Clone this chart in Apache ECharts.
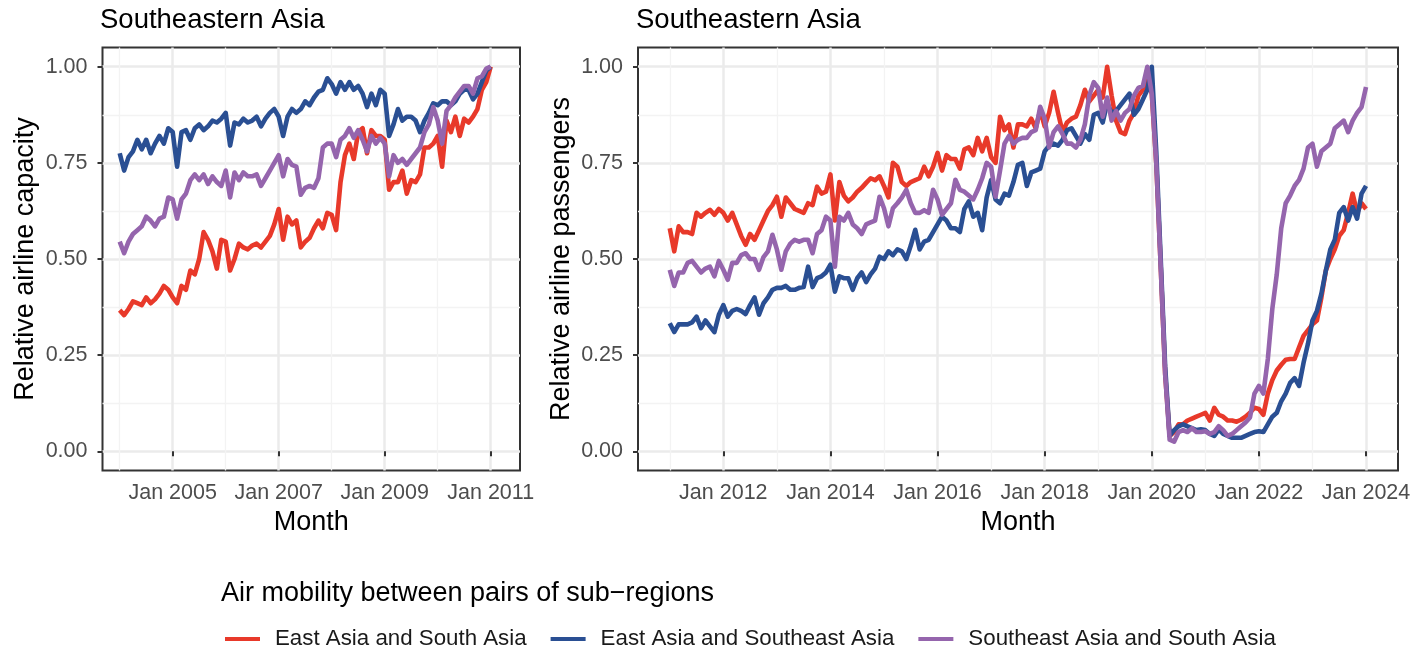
<!DOCTYPE html>
<html>
<head>
<meta charset="utf-8">
<title>Southeastern Asia air mobility</title>
<script src="https://cdn.jsdelivr.net/npm/echarts@6/dist/echarts.min.js"></script>
<style>
html, body { margin: 0; padding: 0; background: #fff; }
#chart { width: 1427px; height: 652px; }
</style>
</head>
<body>
<div id="chart"></div>
<script>
var seriesNames = ['East Asia and South Asia', 'East Asia and Southeast Asia', 'Southeast Asia and South Asia'];
var colors = ['#e8392a', '#2a4f93', '#9565ad'];

// left panel: monthly capacity, Jan 2004 .. Jan 2011
var capStart = 2004;
var capRed = [0.367,0.354,0.37,0.39,0.385,0.38,0.40,0.385,0.395,0.41,
  0.43,0.42,0.40,0.385,0.43,0.42,0.47,0.46,0.50,0.57,
  0.55,0.52,0.475,0.55,0.545,0.47,0.50,0.54,0.53,0.525,
  0.535,0.54,0.53,0.545,0.56,0.59,0.63,0.55,0.61,0.59,
  0.60,0.53,0.545,0.555,0.58,0.60,0.58,0.62,0.615,0.575,
  0.70,0.77,0.80,0.76,0.83,0.84,0.775,0.835,0.82,0.82,
  0.81,0.68,0.70,0.70,0.73,0.67,0.705,0.70,0.72,0.79,
  0.79,0.80,0.82,0.74,0.86,0.83,0.87,0.82,0.865,0.855,
  0.87,0.89,0.94,0.96,1.00];
var capBlue = [0.775,0.73,0.765,0.78,0.81,0.785,0.81,0.775,0.80,0.82,
  0.80,0.84,0.83,0.74,0.83,0.835,0.81,0.84,0.85,0.835,
  0.845,0.86,0.855,0.865,0.88,0.795,0.855,0.85,0.865,0.855,
  0.86,0.87,0.845,0.865,0.88,0.89,0.87,0.82,0.87,0.89,
  0.88,0.89,0.91,0.90,0.92,0.935,0.94,0.97,0.955,0.93,
  0.96,0.94,0.96,0.94,0.95,0.93,0.895,0.93,0.90,0.94,
  0.93,0.82,0.85,0.89,0.86,0.87,0.87,0.86,0.83,0.86,
  0.88,0.905,0.90,0.91,0.91,0.90,0.91,0.93,0.94,0.94,
  0.915,0.93,0.96,0.99,1.00];
var capPurple = [0.545,0.515,0.545,0.565,0.575,0.585,0.61,0.60,0.585,0.605,
  0.61,0.66,0.655,0.605,0.655,0.67,0.705,0.72,0.705,0.72,
  0.695,0.715,0.70,0.69,0.73,0.66,0.725,0.705,0.725,0.715,
  0.715,0.72,0.69,0.71,0.73,0.75,0.77,0.715,0.76,0.745,
  0.74,0.667,0.685,0.69,0.685,0.71,0.79,0.80,0.80,0.765,
  0.81,0.82,0.84,0.815,0.835,0.81,0.78,0.82,0.80,0.815,
  0.80,0.715,0.77,0.75,0.76,0.745,0.76,0.775,0.79,0.83,
  0.85,0.895,0.86,0.80,0.885,0.90,0.92,0.935,0.95,0.95,
  0.93,0.97,0.975,0.995,1.00];

// right panel: monthly passengers, Jan 2011 .. Jan 2024
var paxStart = 2011;
var paxRed = [0.58,0.52,0.585,0.57,0.57,0.565,0.62,0.61,0.62,0.628,
  0.615,0.63,0.62,0.60,0.62,0.59,0.56,0.537,0.565,0.55,
  0.575,0.60,0.625,0.64,0.662,0.61,0.66,0.645,0.63,0.625,
  0.62,0.645,0.64,0.688,0.67,0.675,0.72,0.60,0.70,0.665,
  0.65,0.66,0.675,0.685,0.698,0.71,0.705,0.715,0.69,0.66,
  0.75,0.74,0.70,0.69,0.70,0.705,0.71,0.74,0.715,0.74,
  0.776,0.73,0.77,0.76,0.76,0.735,0.785,0.79,0.77,0.815,
  0.78,0.815,0.765,0.75,0.87,0.835,0.85,0.79,0.85,0.85,
  0.845,0.865,0.84,0.887,0.845,0.88,0.935,0.88,0.83,0.855,
  0.865,0.87,0.90,0.94,0.91,0.925,0.94,0.92,1.00,0.925,
  0.86,0.83,0.825,0.86,0.88,0.925,0.94,0.965,0.93,0.75,
  0.48,0.20,0.04,0.05,0.07,0.07,0.08,0.085,0.09,0.095,
  0.10,0.08,0.113,0.095,0.09,0.08,0.08,0.077,0.082,0.09,
  0.10,0.113,0.11,0.095,0.15,0.185,0.21,0.225,0.238,0.24,
  0.24,0.27,0.30,0.315,0.33,0.34,0.40,0.47,0.50,0.525,
  0.56,0.575,0.62,0.67,0.62,0.645,0.63];
var paxBlue = [0.333,0.31,0.33,0.33,0.33,0.335,0.35,0.32,0.34,0.325,
  0.31,0.355,0.38,0.35,0.365,0.37,0.365,0.357,0.38,0.40,
  0.355,0.385,0.40,0.42,0.425,0.425,0.43,0.42,0.42,0.425,
  0.427,0.48,0.427,0.45,0.455,0.465,0.485,0.415,0.455,0.45,
  0.45,0.42,0.45,0.465,0.44,0.46,0.475,0.506,0.50,0.52,
  0.51,0.525,0.52,0.50,0.535,0.576,0.525,0.545,0.55,0.57,
  0.59,0.61,0.60,0.58,0.58,0.57,0.63,0.65,0.61,0.62,
  0.575,0.66,0.705,0.655,0.645,0.67,0.665,0.70,0.745,0.75,
  0.69,0.725,0.73,0.735,0.78,0.795,0.80,0.795,0.81,0.835,
  0.84,0.82,0.80,0.825,0.81,0.875,0.88,0.855,0.905,0.88,
  0.885,0.90,0.915,0.93,0.875,0.89,0.915,0.94,1.00,0.78,
  0.50,0.22,0.04,0.055,0.065,0.07,0.065,0.06,0.055,0.057,
  0.055,0.045,0.04,0.057,0.045,0.04,0.035,0.035,0.035,0.04,
  0.045,0.05,0.052,0.05,0.07,0.09,0.10,0.13,0.15,0.178,
  0.19,0.17,0.23,0.28,0.34,0.365,0.41,0.47,0.525,0.55,
  0.62,0.635,0.60,0.635,0.605,0.67,0.69];
var paxPurple = [0.472,0.43,0.465,0.465,0.49,0.495,0.48,0.465,0.475,0.48,
  0.455,0.495,0.472,0.446,0.49,0.49,0.51,0.515,0.50,0.50,
  0.472,0.505,0.52,0.563,0.525,0.472,0.52,0.54,0.55,0.545,
  0.55,0.55,0.515,0.565,0.575,0.61,0.60,0.48,0.61,0.60,
  0.62,0.59,0.58,0.565,0.59,0.595,0.60,0.662,0.632,0.585,
  0.632,0.645,0.66,0.68,0.645,0.62,0.62,0.627,0.62,0.68,
  0.655,0.615,0.63,0.645,0.706,0.68,0.675,0.665,0.655,0.68,
  0.71,0.75,0.74,0.662,0.73,0.80,0.82,0.80,0.81,0.815,
  0.815,0.83,0.835,0.896,0.865,0.79,0.83,0.845,0.825,0.80,
  0.80,0.79,0.81,0.85,0.925,0.96,0.945,0.87,0.92,0.86,
  0.885,0.86,0.88,0.89,0.925,0.945,0.95,1.00,0.93,0.75,
  0.48,0.20,0.03,0.025,0.05,0.055,0.05,0.06,0.05,0.05,
  0.052,0.045,0.05,0.065,0.055,0.04,0.045,0.055,0.065,0.075,
  0.088,0.15,0.17,0.15,0.24,0.37,0.46,0.58,0.645,0.665,
  0.69,0.706,0.735,0.79,0.80,0.74,0.78,0.79,0.80,0.84,
  0.85,0.86,0.83,0.86,0.88,0.895,0.947];

// ticks and grid breaks
var capTicks = [2005, 2007, 2009, 2011];
var capMinor = [2004, 2006, 2008, 2010];
var paxTicks = [2012, 2014, 2016, 2018, 2020, 2022, 2024];
var paxMinor = [2011, 2013, 2015, 2017, 2019, 2021, 2023];
var yTicks = [0, 0.25, 0.5, 0.75, 1];
var yMinor = [0.125, 0.375, 0.625, 0.875];

var font = "'Liberation Sans', Arial, Helvetica, sans-serif";

function monthly(start, values) {
  return values.map(function (v, i) { return [start + i / 12, v]; });
}

function majorX(grid, min, max, ticks) {
  return {
    type: 'value', gridIndex: grid, min: min, max: max, position: 'bottom',
    axisLine: { show: false },
    axisTick: { show: true, customValues: ticks, length: 5, lineStyle: { color: '#333333', width: 2 } },
    axisLabel: {
      customValues: ticks, margin: 12, fontSize: 21.5, color: '#4d4d4d', fontFamily: font,
      formatter: function (v) { return 'Jan ' + Math.round(v); }
    },
    splitLine: { show: true, lineStyle: { color: '#ebebeb', width: 2.5 } },
    name: 'Month', nameLocation: 'middle', nameGap: 39, nameMoveOverlap: false,
    nameTextStyle: { fontSize: 27, color: '#000', fontFamily: font }
  };
}

function minorAxis(grid, min, max, vals) {
  return {
    type: 'value', gridIndex: grid, min: min, max: max,
    axisLine: { show: false },
    axisTick: { show: false, customValues: vals },
    axisLabel: { show: false, customValues: vals },
    splitLine: { show: true, lineStyle: { color: '#f3f3f3', width: 1.3 } }
  };
}

function majorY(grid, name) {
  return {
    type: 'value', gridIndex: grid, min: -0.05, max: 1.05, position: 'left',
    axisLine: { show: false },
    axisTick: { show: true, customValues: yTicks, length: 5, lineStyle: { color: '#333333', width: 2 } },
    axisLabel: {
      customValues: yTicks, margin: 15, fontSize: 21.5, color: '#4d4d4d', fontFamily: font,
      formatter: function (v) { return v.toFixed(2); }
    },
    splitLine: { show: true, lineStyle: { color: '#ebebeb', width: 2.5 } },
    name: name, nameLocation: 'middle', nameGap: 63, nameRotate: 90, nameMoveOverlap: false,
    nameTextStyle: { fontSize: 27, color: '#000', fontFamily: font }
  };
}

function line(name, color, x, y, data) {
  return {
    name: name, type: 'line', xAxisIndex: x, yAxisIndex: y,
    data: data, showSymbol: false, symbol: 'none',
    lineStyle: { color: color, width: 4.6, join: 'round' },
    itemStyle: { color: color },
    emphasis: { disabled: true },
    animation: false
  };
}

var dom = document.getElementById('chart');
var myChart = echarts.init(dom, null, { renderer: 'canvas' });

var option = {
  backgroundColor: '#ffffff',
  animation: false,
  textStyle: { fontFamily: font },
  title: [
    { text: 'Southeastern Asia', left: 100, top: 6, padding: 0,
      textStyle: { fontSize: 27.5, fontWeight: 'normal', color: '#000', fontFamily: font } },
    { text: 'Southeastern Asia', left: 636, top: 6, padding: 0,
      textStyle: { fontSize: 27.5, fontWeight: 'normal', color: '#000', fontFamily: font } },
    { text: 'Air mobility between pairs of sub\u2212regions', left: 221, top: 580, padding: 0,
      textStyle: { fontSize: 27, fontWeight: 'normal', color: '#000', fontFamily: font } }
  ],
  legend: {
    data: seriesNames, left: 225, top: 628, padding: 0,
    icon: 'rect', itemWidth: 35, itemHeight: 4, itemGap: 24,
    selectedMode: false,
    textStyle: { fontSize: 22.3, color: '#1a1a1a', fontFamily: font, padding: [0, 0, 0, 10] }
  },
  grid: [
    { left: 102.5, top: 47.5, width: 417.5, height: 423, show: true,
      borderColor: '#333333', borderWidth: 2, backgroundColor: 'transparent' },
    { left: 638, top: 47.5, width: 760, height: 423, show: true,
      borderColor: '#333333', borderWidth: 2, backgroundColor: 'transparent' }
  ],
  xAxis: [
    minorAxis(0, 2003.6755, 2011.553, capMinor),
    majorX(0, 2003.6755, 2011.553, capTicks),
    minorAxis(1, 2010.407, 2024.597, paxMinor),
    majorX(1, 2010.407, 2024.597, paxTicks)
  ],
  yAxis: [
    minorAxis(0, -0.05, 1.05, yMinor),
    majorY(0, 'Relative airline capacity'),
    minorAxis(1, -0.05, 1.05, yMinor),
    majorY(1, 'Relative airline passengers')
  ],
  series: [
    line(seriesNames[0], colors[0], 1, 1, monthly(capStart, capRed)),
    line(seriesNames[1], colors[1], 1, 1, monthly(capStart, capBlue)),
    line(seriesNames[2], colors[2], 1, 1, monthly(capStart, capPurple)),
    line(seriesNames[0], colors[0], 3, 3, monthly(paxStart, paxRed)),
    line(seriesNames[1], colors[1], 3, 3, monthly(paxStart, paxBlue)),
    line(seriesNames[2], colors[2], 3, 3, monthly(paxStart, paxPurple))
  ]
};

if (option && typeof option === 'object') {
  myChart.setOption(option, true);
  window.onresize = function () {
    myChart.resize();
  };
}
</script>
</body>
</html>
